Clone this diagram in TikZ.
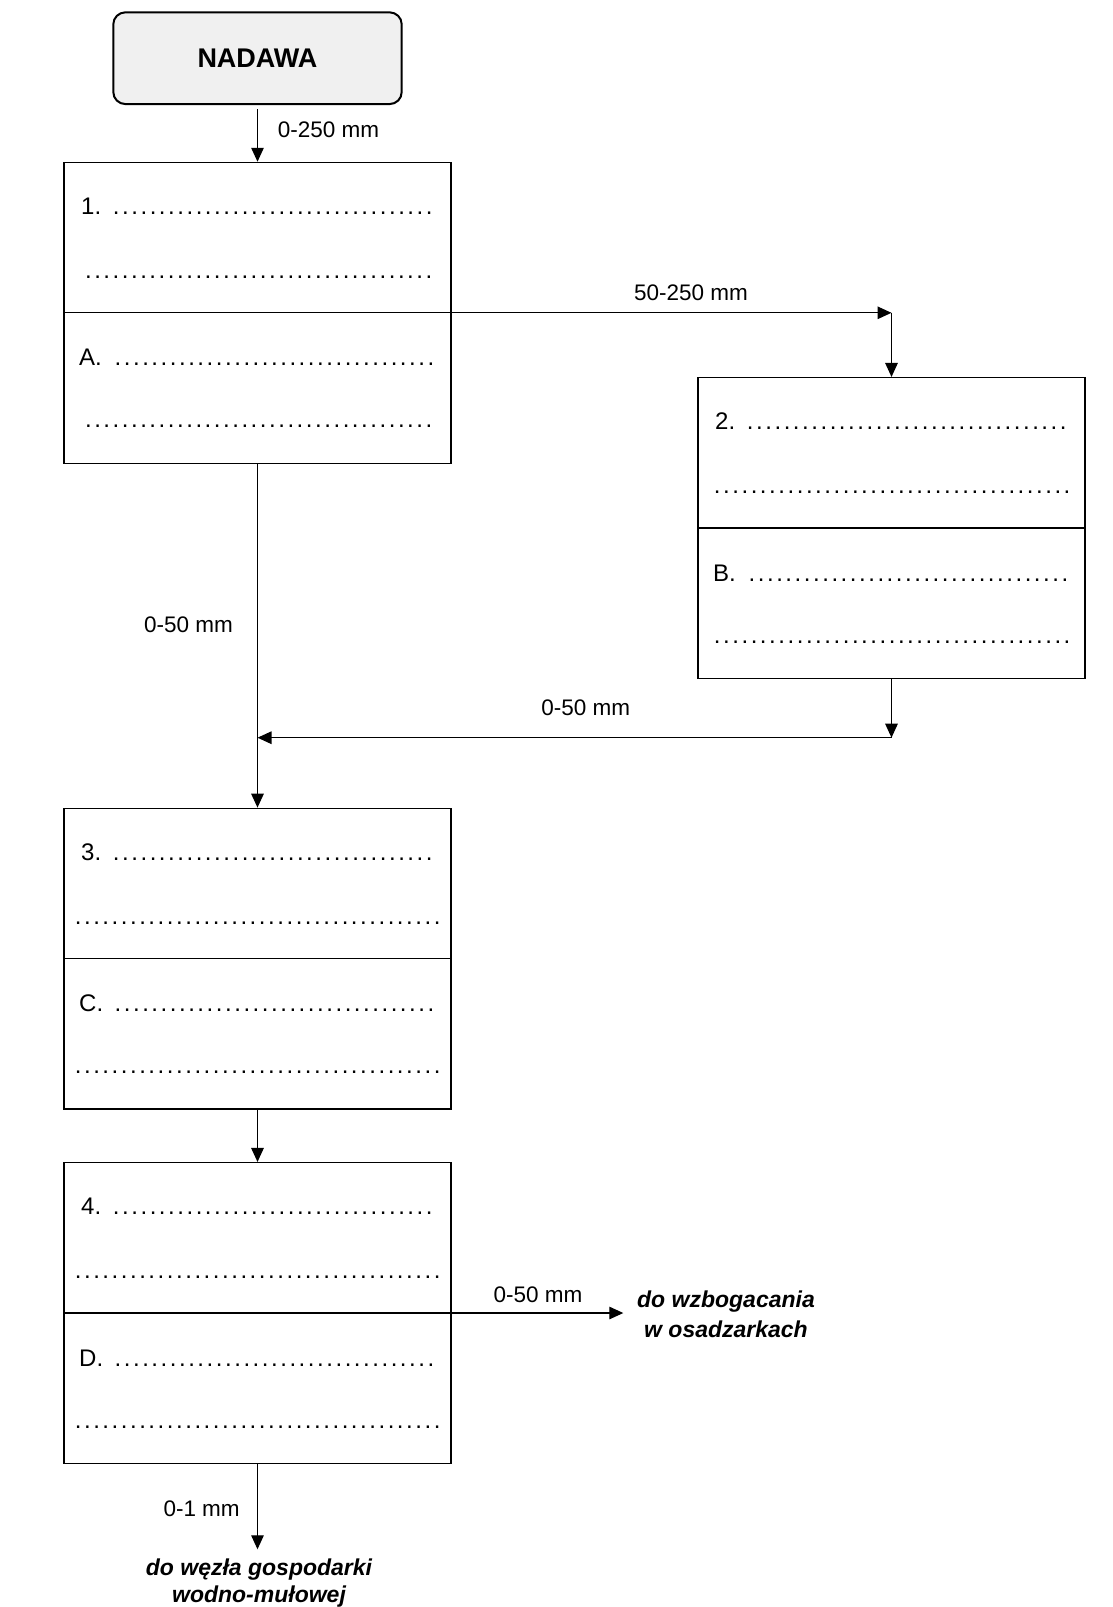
\documentclass[tikz,border=0pt]{standalone}
\usepackage{fontspec}
\setmainfont{Liberation Sans}
\usetikzlibrary{arrows.meta}
\definecolor{nadfill}{HTML}{F0F0F0}
\newcommand\dl[1]{\hbox to #1pt{\cleaders\hbox to 9.2pt{\hss.\hss}\hfill}}
% #1 name, #2 cx, #3 cy, #4 number, #5 letter, #6 row2 offset, #7 row2 width
\newcommand\mypanel[7]{%
  \node[box] (#1) at (#2,#3) {};
  \draw[boxline] (#1.west) -- (#1.east);
  \node[txt] (#1t1) at ({#2-176.5},{#3-98.5}) {\makebox[27pt][l]{#4}\dl{329}};
  \node[txt] (#1t2) at ({#2-193.5+#6},{#3-34.5}) {\dl{#7}};
  \node[txt] (#1t3) at ({#2-178.5},{#3+53}) {\makebox[29.7pt][l]{#5}\dl{331}};
  \node[txt] (#1t4) at ({#2-193.5+#6},{#3+115}) {\dl{#7}};
}
\begin{document}
\begin{tikzpicture}[x=1pt,y=-1pt,
  box/.style={draw, line width=1.3pt, minimum width=387pt, minimum height=300.8pt, inner sep=0pt},
  boxline/.style={line width=1.3pt},
  txt/.style={anchor=base west, inner sep=0pt, font=\fontsize{24}{28}\selectfont},
  lbl/.style={inner sep=0pt, font=\fontsize{22.5}{27}\selectfont},
  outlbl/.style={inner sep=0pt, align=center, anchor=north},
  arr/.style={line width=1.3pt, -{Triangle[length=14pt,width=12.5pt]}}]
\useasboundingbox (0,0) rectangle (1112,1607);

\node[draw, line width=2pt, fill=nadfill, rounded corners=12pt,
      minimum width=288.4pt, minimum height=91.7pt, inner sep=0pt,
      font=\bfseries\fontsize{27}{30}\selectfont] (nadawa) at (257.5,58.2) {NADAWA};

\mypanel{b1}{257.5}{312.8}{1.}{A.}{16.4}{356}
\mypanel{b2}{891.5}{528}{2.}{B.}{14.4}{359}
\mypanel{b3}{257.5}{958.7}{3.}{C.}{6.4}{374}
\mypanel{b4}{257.5}{1313}{4.}{D.}{6.4}{374}

% connectors
\coordinate (c1) at (b2.north |- b1.east);
\coordinate (c2) at (891.5,737.7);
\coordinate (c2l) at (b1.south |- c2);
\coordinate (c3) at (623.3,1313);
\coordinate (c4) at (257.5,1549.3);

\draw[arr] ([yshift=-4pt]nadawa.south) -- (b1.north);
\draw[arr] (b1.east) -- (c1);
\draw[arr] (c1) -- (b2.north);
\draw[arr] (b2.south) -- (c2);
\draw[arr] (c2) -- (c2l);
\draw[arr] (b1.south) -- (b3.north);
\draw[arr] (b3.south) -- (b4.north);
\draw[arr] (b4.east) -- (c3);
\draw[arr] (b4.south) -- (c4);

% labels
\node[lbl, anchor=base west] (l1) at (277.7,137.3) {0-250 mm};
\node[lbl, anchor=base] (l2) at (691,300) {50-250 mm};
\node[lbl, anchor=base west] (l3) at (144,632.3) {0-50 mm};
\node[lbl, anchor=base] (l4) at (585.7,715) {0-50 mm};
\node[lbl, anchor=base west] (l5) at (493.3,1302.3) {0-50 mm};
\node[lbl, anchor=base west] (l6) at (163.3,1516) {0-1 mm};

\node[outlbl, font=\bfseries\itshape\fontsize{23}{30}\selectfont] (o1) at (726,1290.2) {do wzbogacania\\w osadzarkach};
\node[outlbl, font=\bfseries\itshape\fontsize{23}{26.7}\selectfont] (o2) at (259,1558.5) {do węzła gospodarki\\wodno-mułowej};
\end{tikzpicture}
\end{document}
